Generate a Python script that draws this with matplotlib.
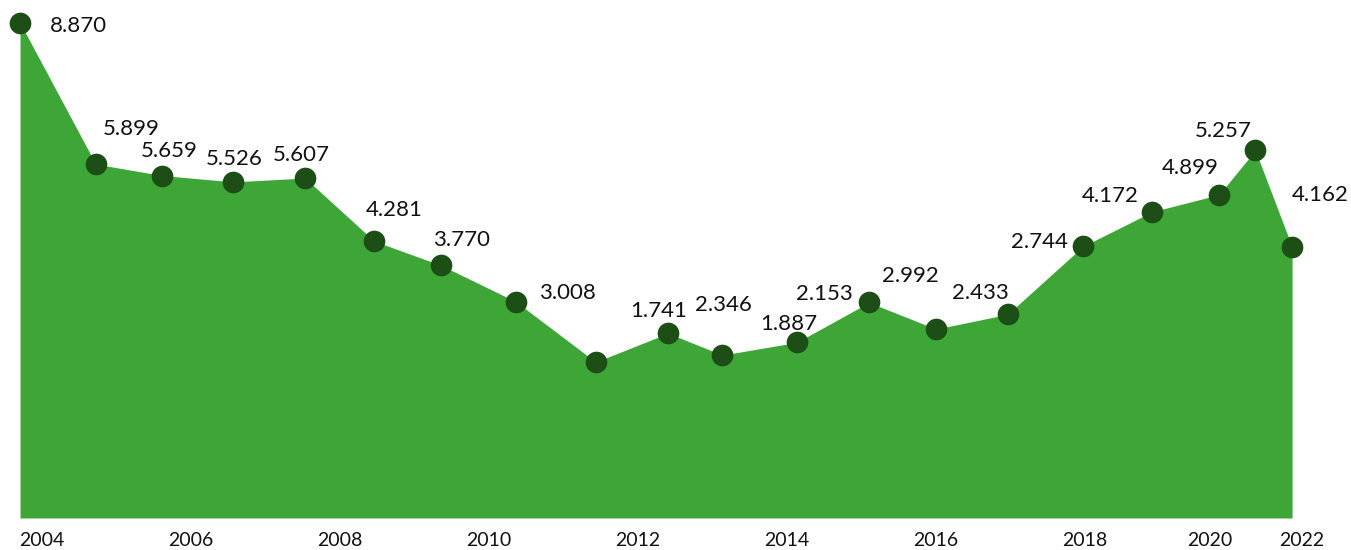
import numpy as np
import matplotlib.pyplot as plt

# observation dates (decimal years) and values
dates = [2003.705, 2004.721, 2005.615, 2006.568, 2007.530, 2008.460, 2009.360,
         2010.362, 2011.432, 2012.403, 2013.132, 2014.130, 2015.101, 2016.000,
         2016.962, 2017.973, 2018.903, 2019.799, 2020.286, 2020.779]
values = [8.870, 5.899, 5.659, 5.526, 5.607, 4.281, 3.770,
          3.008, 1.741, 2.346, 1.887, 2.153, 2.992, 2.433,
          2.744, 4.172, 4.899, 5.257, 6.190, 4.162]
labelled = [True] * 18 + [False, True]

tick_years = ['2004', '2006', '2008', '2010', '2012', '2014', '2016', '2018', '2020', '2022']
tick_pos = [2004, 2006, 2008, 2010, 2012, 2014, 2016, 2018, 2019.68, 2020.91]

# label offsets from each dot, in pixels (dx, dy)
label_offsets = [(58, -3), (36, 35), (7, 25), (1, 23), (-4, 23), (20, 31), (20, 25),
                 (51, 9), (63, 51), (55, 28), (66, 31), (28, 48), (41, 26), (44, 36),
                 (32, 72), (27, 50), (38, 44), (4, 64), (0, 0), (28, 52)]

FILL = '#3ea637'
DOT = '#1c4e16'

plt.rcParams['font.family'] = ['Lato', 'DejaVu Sans']

fig = plt.figure(figsize=(13.51, 5.5), dpi=100)
ax = fig.add_axes([0, 32 / 550, 1, 518 / 550])

y_low = -1.536
ax.fill_between(dates, values, y_low, color=FILL, lw=0)
ax.plot(dates, values, 'o', color=DOT, ms=15.6, mew=0)

for d, v, show, off in zip(dates, values, labelled, label_offsets):
    if not show:
        continue
    ax.annotate(f'{v:.3f}', (d, v), xytext=off, textcoords='offset pixels',
                ha='center', va='center', fontsize=16, color='#111111')

ax.set_xlim(2003.436, 2021.570)
ax.set_ylim(y_low, 9.347)
ax.set_xticks(tick_pos)
ax.set_xticklabels(tick_years)
ax.tick_params(axis='x', length=0, pad=10, labelsize=14, labelcolor='#111111')
ax.set_yticks([])
for s in ax.spines.values():
    s.set_visible(False)

fig.savefig('out.png', dpi=100)
